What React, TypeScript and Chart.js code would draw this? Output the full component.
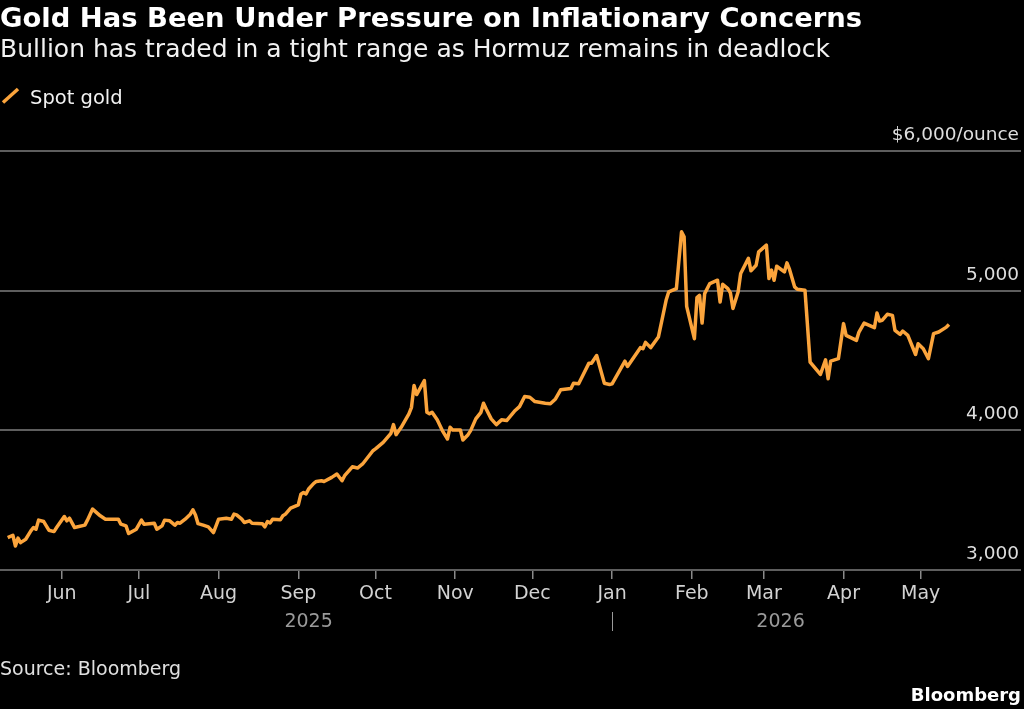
import { useEffect, useRef } from 'react';
import { Chart, registerables } from 'chart.js';

Chart.register(...registerables);

// Spot gold, USD per ounce
const DATES = [
  '2025-05-11', '2025-05-13', '2025-05-14', '2025-05-15', '2025-05-16', '2025-05-18', '2025-05-20', '2025-05-21',
  '2025-05-22', '2025-05-23', '2025-05-25', '2025-05-27', '2025-05-29', '2025-05-30', '2025-06-02', '2025-06-03',
  '2025-06-04', '2025-06-06', '2025-06-10', '2025-06-11', '2025-06-13', '2025-06-16', '2025-06-18', '2025-06-23',
  '2025-06-24', '2025-06-26', '2025-06-27', '2025-06-30', '2025-07-02', '2025-07-03', '2025-07-07', '2025-07-08',
  '2025-07-10', '2025-07-11', '2025-07-13', '2025-07-15', '2025-07-16', '2025-07-17', '2025-07-19', '2025-07-21',
  '2025-07-22', '2025-07-23', '2025-07-24', '2025-07-26', '2025-07-28', '2025-07-30', '2025-08-01', '2025-08-04',
  '2025-08-06', '2025-08-07', '2025-08-08', '2025-08-10', '2025-08-11', '2025-08-13', '2025-08-14', '2025-08-18',
  '2025-08-19', '2025-08-20', '2025-08-21', '2025-08-22', '2025-08-25', '2025-08-26', '2025-08-27', '2025-08-29',
  '2025-09-01', '2025-09-02', '2025-09-03', '2025-09-04', '2025-09-05', '2025-09-07', '2025-09-08', '2025-09-10',
  '2025-09-11', '2025-09-14', '2025-09-16', '2025-09-18', '2025-09-19', '2025-09-22', '2025-09-24', '2025-09-26',
  '2025-09-30', '2025-10-01', '2025-10-04', '2025-10-07', '2025-10-08', '2025-10-09', '2025-10-11', '2025-10-14',
  '2025-10-15', '2025-10-16', '2025-10-17', '2025-10-20', '2025-10-21', '2025-10-22', '2025-10-23', '2025-10-25',
  '2025-10-27', '2025-10-29', '2025-10-30', '2025-10-31', '2025-11-03', '2025-11-04', '2025-11-06', '2025-11-07',
  '2025-11-09', '2025-11-11', '2025-11-12', '2025-11-13', '2025-11-15', '2025-11-17', '2025-11-19', '2025-11-21',
  '2025-11-24', '2025-11-26', '2025-11-28', '2025-11-30', '2025-12-02', '2025-12-06', '2025-12-08', '2025-12-10',
  '2025-12-12', '2025-12-16', '2025-12-17', '2025-12-19', '2025-12-23', '2025-12-24', '2025-12-26', '2025-12-29',
  '2025-12-31', '2026-01-01', '2026-01-06', '2026-01-07', '2026-01-12', '2026-01-13', '2026-01-14', '2026-01-16',
  '2026-01-19', '2026-01-22', '2026-01-23', '2026-01-26', '2026-01-28', '2026-01-29', '2026-01-30', '2026-02-02',
  '2026-02-03', '2026-02-04', '2026-02-05', '2026-02-06', '2026-02-08', '2026-02-11', '2026-02-12', '2026-02-13',
  '2026-02-15', '2026-02-16', '2026-02-17', '2026-02-19', '2026-02-20', '2026-02-23', '2026-02-24', '2026-02-26',
  '2026-02-27', '2026-03-02', '2026-03-03', '2026-03-04', '2026-03-05', '2026-03-06', '2026-03-09', '2026-03-10',
  '2026-03-11', '2026-03-13', '2026-03-14', '2026-03-17', '2026-03-19', '2026-03-23', '2026-03-25', '2026-03-26',
  '2026-03-27', '2026-03-30', '2026-04-01', '2026-04-02', '2026-04-06', '2026-04-07', '2026-04-09', '2026-04-13',
  '2026-04-14', '2026-04-15', '2026-04-16', '2026-04-18', '2026-04-20', '2026-04-21', '2026-04-23', '2026-04-24',
  '2026-04-26', '2026-04-29', '2026-04-30', '2026-05-02', '2026-05-04', '2026-05-06', '2026-05-08', '2026-05-11',
  '2026-05-12',
];

const SPOT_GOLD = [
  3232, 3249, 3172, 3228, 3196, 3220, 3280, 3304,
  3292, 3357, 3347, 3285, 3275, 3304, 3383, 3352,
  3371, 3304, 3321, 3357, 3436, 3388, 3364, 3364,
  3328, 3316, 3261, 3292, 3357, 3328, 3335, 3292,
  3316, 3357, 3352, 3321, 3340, 3335, 3364, 3400,
  3431, 3393, 3332, 3321, 3309, 3268, 3364, 3371,
  3364, 3400, 3395, 3364, 3340, 3352, 3335, 3332,
  3309, 3347, 3337, 3364, 3359, 3388, 3400, 3443,
  3467, 3543, 3555, 3545, 3580, 3620, 3634, 3639,
  3634, 3663, 3687, 3639, 3675, 3739, 3730, 3759,
  3854, 3867, 3914, 3979, 4041, 3969, 4022, 4118,
  4165, 4321, 4256, 4357, 4129, 4118, 4129, 4075,
  3998, 3938, 4022, 4003, 4003, 3931, 3969, 3998,
  4082, 4129, 4194, 4154, 4082, 4041, 4075, 4070,
  4136, 4170, 4242, 4237, 4206, 4194, 4190, 4225,
  4290, 4299, 4337, 4333, 4481, 4481, 4536, 4337,
  4328, 4333, 4495, 4457, 4592, 4584, 4630, 4592,
  4668, 4931, 4991, 5015, 5421, 5386, 4888, 4656,
  4951, 4967, 4768, 4979, 5051, 5075, 4919, 5046,
  5015, 4984, 4872, 4991, 5123, 5231, 5142, 5182,
  5278, 5326, 5087, 5147, 5075, 5175, 5134, 5199,
  5152, 5027, 5010, 5003, 4488, 4400, 4505, 4369,
  4495, 4513, 4764, 4680, 4644, 4704, 4768, 4735,
  4840, 4783, 4788, 4831, 4823, 4716, 4687, 4711,
  4680, 4543, 4620, 4584, 4513, 4692, 4704, 4739,
  4757,
];

const MONTH_TICKS = [
  '2025-06-01', '2025-07-01', '2025-08-01', '2025-09-01', '2025-10-01', '2025-11-01',
  '2025-12-01', '2026-01-01', '2026-02-01', '2026-03-01', '2026-04-01', '2026-05-01',
];
const MONTH_NAMES = ['Jan', 'Feb', 'Mar', 'Apr', 'May', 'Jun', 'Jul', 'Aug', 'Sep', 'Oct', 'Nov', 'Dec'];
const Y_TICKS = [3000, 4000, 5000, 6000];
const X_RANGE = ['2025-05-08', '2026-06-09'];

const ORANGE = '#fba43c';
const DAY_MS = 86400000;

function dayNum(iso: string): number {
  const [y, m, d] = iso.split('-').map(Number);
  return Date.UTC(y, m - 1, d) / DAY_MS;
}

function yearOf(day: number): number {
  return new Date(day * DAY_MS).getUTCFullYear();
}

// Right-aligned value labels sitting just above each horizontal gridline,
// plus the year row and the divider under the month axis.
const annotations = {
  id: 'annotations',
  afterDraw(chart: Chart) {
    const { ctx, chartArea } = chart;
    const y = chart.scales.y;
    const x = chart.scales.x;
    ctx.save();

    ctx.font = "18.5px 'DejaVu Sans'";
    ctx.fillStyle = '#dedede';
    ctx.textAlign = 'right';
    ctx.textBaseline = 'alphabetic';
    const top = Math.max(...Y_TICKS);
    Y_TICKS.forEach((v) => {
      const txt = v === top ? `$${v.toLocaleString('en-US')}/ounce` : v.toLocaleString('en-US');
      ctx.fillText(txt, chartArea.right - 2, y.getPixelForValue(v) - 11);
    });

    // year labels centred under the span of data in each year
    const days = DATES.map(dayNum);
    const years = Array.from(new Set(days.map(yearOf)));
    ctx.font = "19px 'DejaVu Sans'";
    ctx.fillStyle = '#9a9a9a';
    ctx.textAlign = 'center';
    years.forEach((yr) => {
      const inYear = days.filter((d) => yearOf(d) === yr);
      const from = yr === years[0] ? inYear[0] : dayNum(`${yr}-01-01`);
      const to = yr === years[years.length - 1] ? inYear[inYear.length - 1] : dayNum(`${yr}-12-31`);
      const cx = (x.getPixelForValue(from) + x.getPixelForValue(to)) / 2;
      ctx.fillText(String(yr), cx, 627);
    });

    // divider at each year boundary
    ctx.strokeStyle = '#9a9a9a';
    ctx.lineWidth = 1;
    years.slice(1).forEach((yr) => {
      const px = Math.round(x.getPixelForValue(dayNum(`${yr}-01-01`))) + 0.5;
      ctx.beginPath();
      ctx.moveTo(px, 612);
      ctx.lineTo(px, 631);
      ctx.stroke();
    });
    ctx.restore();
  },
};

export default function App() {
  const canvasRef = useRef<HTMLCanvasElement | null>(null);

  useEffect(() => {
    document.body.style.margin = '0';
    document.body.style.background = '#000';
    const canvas = canvasRef.current;
    if (!canvas) return;

    const chart = new Chart(canvas, {
      type: 'line',
      data: {
        datasets: [
          {
            label: 'Spot gold',
            data: DATES.map((d, i) => ({ x: dayNum(d), y: SPOT_GOLD[i] })),
            borderColor: ORANGE,
            borderWidth: 3.5,
            borderJoinStyle: 'round',
            pointRadius: 0,
            tension: 0,
            fill: false,
          },
        ],
      },
      options: {
        responsive: false,
        animation: false,
        events: [],
        layout: { padding: { top: 151, left: 0, right: 3, bottom: 0 } },
        plugins: {
          legend: { display: false },
          tooltip: { enabled: false },
        },
        scales: {
          x: {
            type: 'linear',
            min: dayNum(X_RANGE[0]),
            max: dayNum(X_RANGE[1]),
            afterBuildTicks: (scale: any) => {
              scale.ticks = MONTH_TICKS.map((m) => ({ value: dayNum(m) }));
            },
            afterFit: (scale: any) => {
              scale.height = 139;
            },
            grid: {
              drawOnChartArea: false,
              drawTicks: true,
              tickLength: 9,
              color: '#8a8a8a',
              lineWidth: 1.5,
            },
            border: { display: false },
            ticks: {
              autoSkip: false,
              maxRotation: 0,
              padding: 4,
              color: '#d2d2d2',
              font: { family: "'DejaVu Sans'", size: 19 },
              callback: (value: any) => MONTH_NAMES[new Date(Number(value) * DAY_MS).getUTCMonth()],
            },
          },
          y: {
            position: 'right',
            min: Y_TICKS[0],
            max: Y_TICKS[Y_TICKS.length - 1],
            afterBuildTicks: (scale: any) => {
              scale.ticks = Y_TICKS.map((v) => ({ value: v }));
            },
            afterFit: (scale: any) => {
              scale.width = 0;
            },
            grid: {
              drawTicks: false,
              color: '#5e5e5e',
              lineWidth: 2,
            },
            border: { display: false },
            ticks: { display: false },
          },
        },
      },
      plugins: [annotations],
    });

    return () => chart.destroy();
  }, []);

  const font = "'DejaVu Sans', sans-serif";

  return (
    <div
      style={{
        position: 'absolute',
        left: 0,
        top: 0,
        width: 1024,
        height: 709,
        background: '#000',
        overflow: 'hidden',
        fontFamily: font,
      }}
    >
      <canvas ref={canvasRef} width={1024} height={709} style={{ position: 'absolute', left: 0, top: 0 }} />
      <div
        style={{
          position: 'absolute',
          left: 0,
          top: 4,
          fontSize: 27.4,
          lineHeight: '27px',
          fontWeight: 700,
          color: '#ffffff',
          whiteSpace: 'nowrap',
        }}
      >
        Gold Has Been Under Pressure on Inflationary Concerns
      </div>
      <div
        style={{
          position: 'absolute',
          left: 0,
          top: 36,
          fontSize: 25,
          lineHeight: '25px',
          color: '#f2f2f2',
          whiteSpace: 'nowrap',
        }}
      >
        Bullion has traded in a tight range as Hormuz remains in deadlock
      </div>
      <svg width={22} height={22} style={{ position: 'absolute', left: 0, top: 84 }}>
        <line x1={3} y1={18.5} x2={18} y2={5} stroke={ORANGE} strokeWidth={3.5} />
      </svg>
      <div
        style={{
          position: 'absolute',
          left: 30,
          top: 88,
          fontSize: 19.5,
          lineHeight: '19.5px',
          color: '#f2f2f2',
          whiteSpace: 'nowrap',
        }}
      >
        Spot gold
      </div>
      <div
        style={{
          position: 'absolute',
          left: 0,
          top: 659,
          fontSize: 19,
          lineHeight: '19px',
          color: '#e0e0e0',
          whiteSpace: 'nowrap',
        }}
      >
        Source: Bloomberg
      </div>
      <div
        style={{
          position: 'absolute',
          right: 3,
          top: 686,
          fontSize: 18,
          lineHeight: '18px',
          fontWeight: 700,
          color: '#ffffff',
          whiteSpace: 'nowrap',
        }}
      >
        Bloomberg
      </div>
    </div>
  );
}
